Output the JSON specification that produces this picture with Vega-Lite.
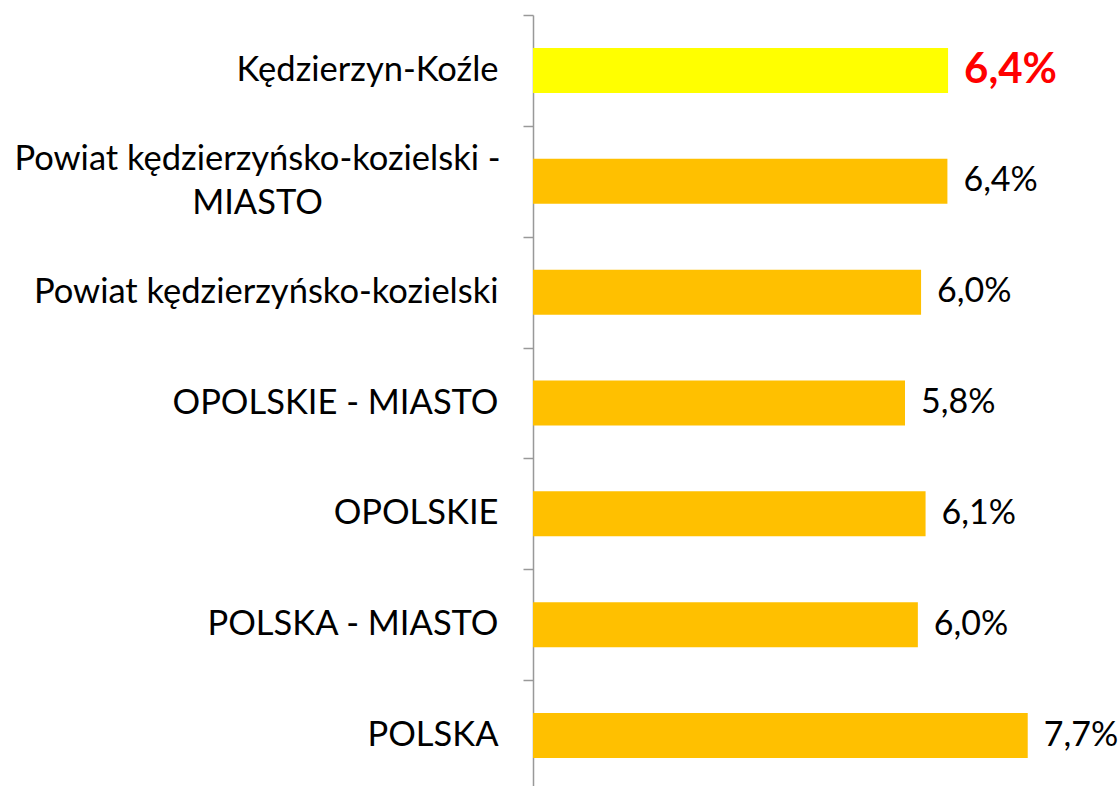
{
  "$schema": "https://vega.github.io/schema/vega-lite/v6.json",
  "autosize": "none",
  "width": 514,
  "height": 776,
  "padding": {"left": 533, "top": 15, "right": 72, "bottom": 0},
  "background": "white",
  "config": {
    "view": {"stroke": null},
    "font": "Lato"
  },
  "data": {
    "values": [
      {"name": "Kędzierzyn-Koźle", "value": 6.46, "label": "6,4%"},
      {"name": "Powiat kędzierzyńsko-kozielski - MIASTO", "value": 6.45, "label": "6,4%"},
      {"name": "Powiat kędzierzyńsko-kozielski", "value": 6.04, "label": "6,0%"},
      {"name": "OPOLSKIE - MIASTO", "value": 5.79, "label": "5,8%"},
      {"name": "OPOLSKIE", "value": 6.11, "label": "6,1%"},
      {"name": "POLSKA - MIASTO", "value": 5.99, "label": "6,0%"},
      {"name": "POLSKA", "value": 7.70, "label": "7,7%"}
    ]
  },
  "encoding": {
    "y": {
      "field": "name",
      "type": "nominal",
      "sort": null,
      "scale": {"paddingInner": 0, "paddingOuter": 0},
      "axis": {
        "title": null,
        "domainColor": "#999999",
        "domainWidth": 1.5,
        "tickColor": "#999999",
        "tickWidth": 1.5,
        "tickSize": 10,
        "tickBand": "extent",
        "labelPadding": {
          "condition": {"test": "datum.value == 'Powiat kędzierzyńsko-kozielski - MIASTO'", "value": 266},
          "value": 25
        },
        "labelAlign": {
          "condition": {"test": "datum.value == 'Powiat kędzierzyńsko-kozielski - MIASTO'", "value": "center"},
          "value": "right"
        },
        "labelFont": "Lato",
        "labelFontSize": 34.5,
        "labelColor": "#000000",
        "labelLimit": 600,
        "labelLineHeight": 44,
        "labelOffset": {
          "condition": {"test": "datum.value == 'Powiat kędzierzyńsko-kozielski - MIASTO'", "value": -22},
          "value": 0
        },
        "labelExpr": "datum.label == 'Powiat kędzierzyńsko-kozielski - MIASTO' ? ['Powiat kędzierzyńsko-kozielski -', 'MIASTO'] : datum.label"
      }
    },
    "x": {
      "field": "value",
      "type": "quantitative",
      "scale": {"domain": [0, 8], "nice": false},
      "axis": null
    }
  },
  "layer": [
    {
      "mark": {"type": "bar", "height": {"band": 0.406}},
      "encoding": {
        "color": {
          "condition": {"test": "datum.name == 'Kędzierzyn-Koźle'", "value": "#FFFF00"},
          "value": "#FFC000"
        }
      }
    },
    {
      "transform": [{"filter": "datum.name != 'Kędzierzyn-Koźle'"}],
      "mark": {"type": "text", "align": "left", "baseline": "middle", "dx": 16, "fontSize": 34, "font": "Lato", "color": "#000000"},
      "encoding": {"text": {"field": "label"}}
    },
    {
      "transform": [{"filter": "datum.name == 'Kędzierzyn-Koźle'"}],
      "mark": {"type": "text", "align": "left", "baseline": "middle", "dx": 16, "fontSize": 42, "fontWeight": "bold", "font": "Lato", "color": "#FF0000"},
      "encoding": {"text": {"field": "label"}}
    }
  ]
}
